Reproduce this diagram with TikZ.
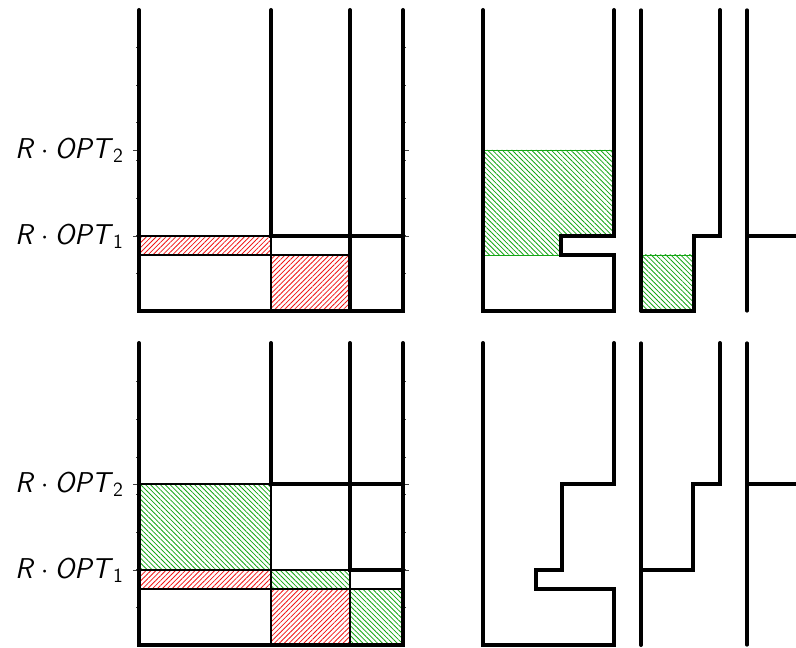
\documentclass[tikz,border=0pt]{standalone}
\usetikzlibrary{patterns.meta}
\definecolor{hred}{RGB}{240,20,20}
\definecolor{hgreen}{RGB}{20,165,20}
\tikzset{
  wall/.style={line width=3pt, line cap=round, line join=miter},
  lowwall/.style={line width=2.4pt, line cap=round},
  edge/.style={line width=1pt},
  tickmark/.style={line width=0.6pt, black!75},
  redhatch/.style={draw=hred, line width=0.5pt,
    pattern={Lines[angle=45,distance=2.6pt,line width=0.6pt]}, pattern color=hred},
  greenhatch/.style={draw=hgreen, line width=0.5pt,
    pattern={Lines[angle=-45,distance=2.6pt,line width=0.6pt]}, pattern color=hgreen},
  lab/.style={anchor=base east, inner sep=0pt, font=\fontsize{21.5}{24}\selectfont\sffamily}
}
\newcommand{\optlabel}[1]{\textsl{R}${}\cdot{}$\textsl{OPT}\textsubscript{#1}}
\begin{document}
\begin{tikzpicture}[x=0.75pt,y=-0.75pt]
\useasboundingbox (0,0) rectangle (796,648);

% ---------- axis ticks and labels of both left panels ----------
\foreach \dy/\nm in {0/a,334/b}{
  \begin{scope}[shift={(0,\dy)}]
    \foreach \y in {273.4,235.8,198.1,160.5,122.9,85.3,47.6}{
      \draw[tickmark] (136,\y) -- (139,\y);
      \draw[tickmark] (403,\y) -- (406,\y);
    }
    \foreach \y in {150,236}{
      \draw[tickmark] (133,\y) -- (139,\y);
      \draw[tickmark] (403,\y) -- (409,\y);
    }
    \node[lab] (opttwo\nm) at (124,158.5) {\optlabel{2}};
    \node[lab] (optone\nm) at (124,244.5) {\optlabel{1}};
  \end{scope}
}

% ---------- upper left: bins with two red items ----------
\draw[redhatch] (139,236) rectangle (271,255);
\draw[redhatch] (271,255) rectangle (350,311);
\draw[edge] (139,236) -- (271,236);
\draw[edge] (139,255) -- (350,255);
\draw[edge] (271,236) -- (271,311);
\draw[wall] (139,10) -- (139,311) -- (403,311) -- (403,10);
\draw[wall] (271,10) -- (271,236) -- (403,236);
\draw[wall] (350,10) -- (350,311);

% ---------- upper right: free space profile ----------
\draw[greenhatch] (483,150) -- (614,150) -- (614,236) -- (561,236)
  -- (561,255) -- (483,255) -- cycle;
\draw[greenhatch] (641,255) rectangle (694,311);
\draw[wall] (614,10) -- (614,236) -- (561,236) -- (561,255) -- (614,255)
  -- (614,311) -- (483,311) -- (483,10);
\draw[wall] (720,10) -- (720,236) -- (694,236) -- (694,311) -- (641,311);
\draw[lowwall] (641,10) -- (641,311);
\draw[lowwall] (747,10) -- (747,311);
\draw[wall] (747,236) -- (796,236);

% ---------- lower left: bins with red and green items ----------
\begin{scope}[shift={(0,334)}]
  \draw[greenhatch] (139,150) rectangle (271,236);
  \draw[redhatch] (139,236) rectangle (271,255);
  \draw[greenhatch] (271,236) rectangle (350,255);
  \draw[redhatch] (271,255) rectangle (350,311);
  \draw[greenhatch] (350,255) rectangle (403,311);
  \draw[edge] (139,150) -- (271,150);
  \draw[edge] (139,236) -- (350,236);
  \draw[edge] (139,255) -- (403,255);
  \draw[edge] (271,150) -- (271,311);
  \draw[edge] (350,236) -- (350,311);
  \draw[wall] (139,9) -- (139,311) -- (403,311) -- (403,9);
  \draw[wall] (271,9) -- (271,150) -- (403,150);
  \draw[wall] (350,9) -- (350,236) -- (403,236);
\end{scope}

% ---------- lower right: remaining profile ----------
\begin{scope}[shift={(0,334)}]
  \draw[wall] (614,9) -- (614,150) -- (562,150) -- (562,236) -- (536,236)
    -- (536,255) -- (614,255) -- (614,311) -- (483,311) -- (483,9);
  \draw[lowwall] (641,9) -- (641,236);
  \draw[wall] (641,311) -- (641,236) -- (693,236) -- (693,150) -- (720,150) -- (720,9);
  \draw[lowwall] (747,9) -- (747,311);
  \draw[wall] (747,150) -- (796,150);
\end{scope}
\end{tikzpicture}
\end{document}
